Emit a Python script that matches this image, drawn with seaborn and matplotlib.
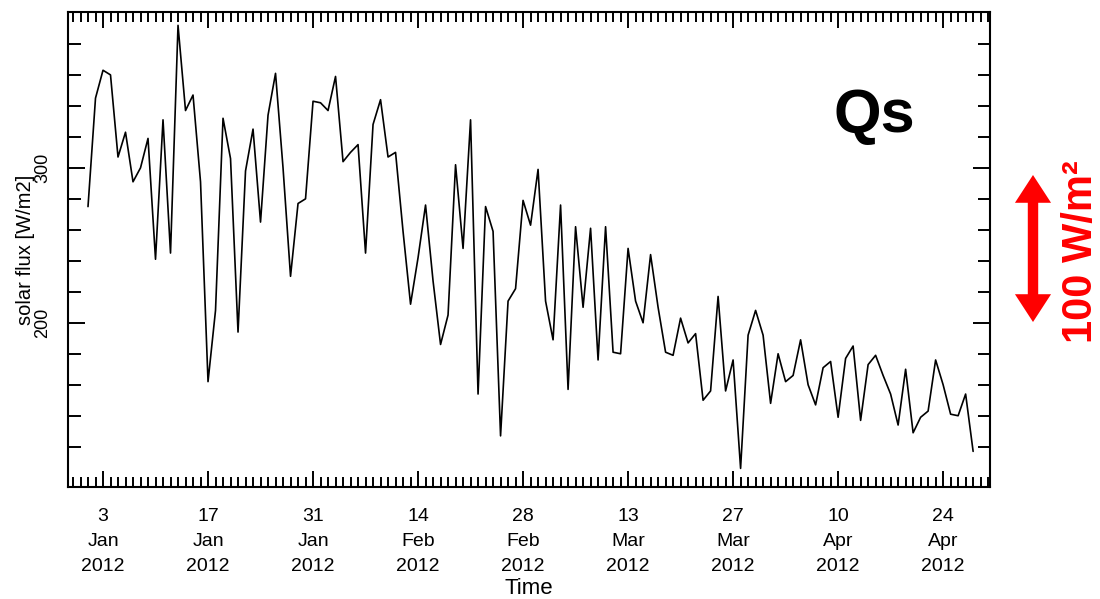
import numpy as np
import pandas as pd
import matplotlib
matplotlib.use("Agg")
import matplotlib.pyplot as plt
import matplotlib.dates as mdates
import matplotlib.ticker as mticker
from matplotlib.patches import FancyArrowPatch
import seaborn as sns

# Daily surface solar flux, W/m2, starting 1 Jan 2012
start_date = "2012-01-01"
solar_flux = [
    275, 345, 363, 360, 307, 323, 291, 300, 319, 241,
    331, 245, 392, 337, 347, 291, 162, 208, 332, 306,
    194, 298, 325, 265, 334, 361, 300, 230, 277, 280,
    343, 342, 337, 359, 304, 310, 315, 245, 328, 344,
    307, 310, 259, 212, 242, 276, 227, 186, 205, 302,
    248, 331, 154, 275, 259, 127, 214, 222, 279, 263,
    299, 214, 189, 276, 157, 262, 210, 261, 176, 262,
    181, 180, 248, 214, 200, 244, 210, 181, 179, 203,
    187, 193, 150, 156, 217, 156, 176, 106, 192, 208,
    192, 148, 180, 162, 166, 189, 160, 147, 171, 175,
    139, 177, 185, 137, 173, 179, 166, 154, 134, 170,
    129, 139, 143, 176, 160, 141, 140, 154, 117,
]
first_major_tick = "2012-01-03"
last_major_tick = "2012-04-24"
y_major_ticks = [200, 300]
y_minor_ticks = [120, 140, 160, 180, 220, 240, 260, 280, 320, 340, 360, 380]

sns.set_style("ticks")
plt.rcParams["font.family"] = ["Liberation Sans", "DejaVu Sans"]
plt.rcParams["text.color"] = "black"
plt.rcParams["axes.labelcolor"] = "black"

dates = pd.date_range(start_date, periods=len(solar_flux), freq="D")
df = pd.DataFrame({"Time": dates, "flux": solar_flux})

W, H = 1100, 599
fig = plt.figure(figsize=(W / 100, H / 100), dpi=100)
ax = fig.add_axes([68 / W, 112 / H, 922 / W, 475 / H])

sns.lineplot(data=df, x="Time", y="flux", ax=ax, color="black", linewidth=1.2)

ax.set_xlim(pd.Timestamp("2011-12-29 08:00"), pd.Timestamp("2012-04-30 06:00"))
ax.set_ylim(94, 400.6)

major_dates = pd.date_range(first_major_tick, last_major_tick, freq="14D")
ax.xaxis.set_major_locator(mticker.FixedLocator(mdates.date2num(major_dates)))
ax.xaxis.set_minor_locator(mdates.DayLocator())


def date_label(v, pos):
    d = mdates.num2date(v)
    return f"{d.day}\n{d:%b}\n{d.year}"


ax.xaxis.set_major_formatter(mticker.FuncFormatter(date_label))
ax.yaxis.set_major_locator(mticker.FixedLocator(y_major_ticks))
ax.yaxis.set_minor_locator(mticker.FixedLocator(y_minor_ticks))
ax.yaxis.set_major_formatter(mticker.FormatStrFormatter("%d"))

for side in ax.spines.values():
    side.set_linewidth(1.5)
    side.set_color("black")

ax.tick_params(axis="x", which="both", direction="in", top=True, bottom=True,
               width=1.4, colors="black", labelsize=14, pad=15)
ax.tick_params(axis="x", which="major", length=11.5)
ax.tick_params(axis="x", which="minor", length=7)
ax.tick_params(axis="y", which="both", direction="in", left=True, right=True,
               width=1.4, colors="black", labelsize=13, pad=12)
ax.tick_params(axis="y", which="major", length=12)
ax.tick_params(axis="y", which="minor", length=9)

fig.canvas.draw()
for tick in ax.xaxis.get_major_ticks():
    tick.label1.set_linespacing(1.62)
for tick in ax.yaxis.get_major_ticks():
    tick.label1.set_rotation(90)
    tick.label1.set_va("center")

ax.set_xlabel("Time", fontsize=16, labelpad=2)
ax.set_ylabel("solar flux [W/m2]", fontsize=14.5)
ax.yaxis.set_label_coords((35 - 68) / 922, 0.5)

fig.text(874 / W, 1 - 132 / H, "Qs", fontsize=44, fontweight="bold",
         ha="center", va="baseline", color="black")

# Scale bar: a red double-headed arrow spanning 100 W/m2
mid = (1 - 248 / H)
for tip in (1 - 175 / H, 1 - 322 / H):
    fig.patches.append(FancyArrowPatch(
        (1033 / W, mid), (1033 / W, tip), transform=fig.transFigure,
        arrowstyle="simple,head_length=2.0,head_width=2.6,tail_width=0.75",
        mutation_scale=10, color="red", lw=0, shrinkA=0, shrinkB=0))

fig.text(1081 / W, 1 - 252 / H, "100 W/m²", fontsize=30, fontweight="bold",
         color="red", rotation=90, ha="center", va="center")

fig.savefig("out.png", dpi=100)
